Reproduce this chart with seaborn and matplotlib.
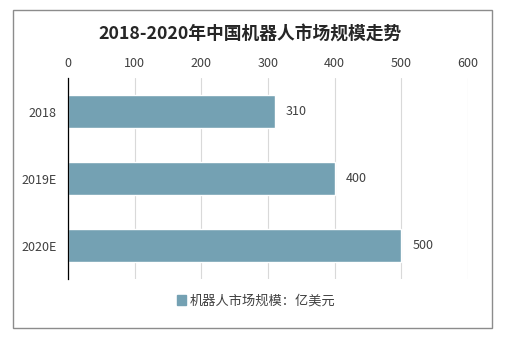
import matplotlib
matplotlib.use("Agg")
import matplotlib.pyplot as plt
import matplotlib.patches as mpatches
import seaborn as sns
import pandas as pd

categories = ["2018", "2019E", "2020E"]
values = [310, 400, 500]
series_name = "机器人市场规模：亿美元"
x_ticks = [0, 100, 200, 300, 400, 500, 600]
title = "2018-2020年中国机器人市场规模走势"

sns.set_theme(style="white")
plt.rcParams['font.family'] = ['Noto Sans CJK SC', 'DejaVu Sans']

df = pd.DataFrame({"cat": categories, "val": values, "series": series_name})

fig = plt.figure(figsize=(5.29, 3.41), dpi=100)
ax = fig.add_axes([68/529, 1-279/341, 400/529, 201/341])

color = "#74a1b3"
sns.barplot(data=df, y="cat", x="val", hue="series", palette=[color],
            orient="h", width=0.5, ax=ax, legend=False, saturation=1)

ax.set_xlim(0, 600)
ax.set_ylim(2.5, -0.5)
ax.set_xticks(x_ticks)
ax.xaxis.tick_top()
ax.tick_params(axis="x", length=0, pad=6, labelsize=9, labelcolor="#404040")
ax.tick_params(axis="y", length=0, pad=8, labelsize=9, labelcolor="#404040")
ax.set_xlabel("")
ax.set_ylabel("")
ax.grid(axis="x", color="#d9d9d9", linewidth=0.8)
ax.set_axisbelow(True)
for s in ["top", "right", "bottom"]:
    ax.spines[s].set_visible(False)
ax.spines["left"].set_color("#000000")
ax.spines["left"].set_linewidth(0.9)

for c, v in zip(categories, values):
    ax.annotate(str(v), xy=(v, categories.index(c)), xytext=(8, 0),
                textcoords="offset points", va="center", ha="left",
                fontsize=9, color="#404040")

fig.text(250/529, 1-34/341, title, ha="center", va="center",
         fontsize=12.8, fontweight="bold", color="#262626")

handle = mpatches.Patch(color=color, label=series_name)
fig.legend(handles=[handle], loc="center", bbox_to_anchor=(256/529, 1-301/341),
           frameon=False, fontsize=9.5, handlelength=0.7, handleheight=0.7,
           handletextpad=0.3, labelcolor="#404040")

border = mpatches.Rectangle((13/529, 1-328/341), (492-13)/529, (328-10)/341,
                            transform=fig.transFigure, fill=False,
                            edgecolor="#8c8c8c", linewidth=1.0)
fig.patches.append(border)

fig.savefig("out.png", dpi=100)
